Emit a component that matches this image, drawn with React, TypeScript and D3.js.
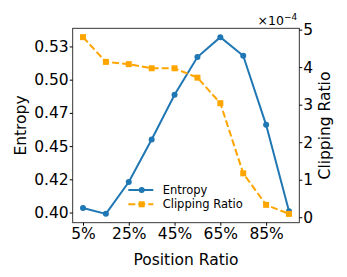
import { useEffect, useRef } from 'react';
import * as d3 from 'd3';

// values
const positions = [5, 15, 25, 35, 45, 55, 65, 75, 85, 95];
const entropy = [0.4034, 0.399, 0.423, 0.455, 0.4887, 0.517, 0.532, 0.518, 0.466, 0.401];
const clippingRatio = [4.8e-4, 4.14e-4, 4.08e-4, 3.97e-4, 3.97e-4, 3.72e-4, 3.04e-4, 1.17e-4, 0.33e-4, 0.09e-4];

const xTicks = [5, 25, 45, 65, 85];
const xTickLabels = ['5%', '25%', '45%', '65%', '85%'];
const leftTicks = [0.4, 0.425, 0.45, 0.475, 0.5, 0.525];
const leftTickLabels = ['0.40', '0.42', '0.45', '0.47', '0.50', '0.53'];
const rightTicks = [0, 1e-4, 2e-4, 3e-4, 4e-4, 5e-4];
const rightTickLabels = ['0', '1', '2', '3', '4', '5'];

const W = 347;
const H = 277;
const FONT = 'DejaVu Sans, sans-serif';
const BLUE = '#1f77b4';
const ORANGE = '#ffa500';

// matplotlib-style 5% padding around the data
function padded(values: number[]): [number, number] {
  const [lo, hi] = d3.extent(values) as [number, number];
  const m = (hi - lo) * 0.05;
  return [lo - m, hi + m];
}

export default function App() {
  const svgRef = useRef<SVGSVGElement>(null);

  useEffect(() => {
    if (!svgRef.current) return;
    const svg = d3.select(svgRef.current);
    svg.selectAll('*').remove();

    const margin = { top: 28.3, right: 47.7, bottom: 54.3, left: 72.7 };
    const innerWidth = W - margin.left - margin.right;
    const innerHeight = H - margin.top - margin.bottom;

    const x = d3.scaleLinear().domain(padded(positions)).range([0, innerWidth]);
    const yL = d3.scaleLinear().domain(padded(entropy)).range([innerHeight, 0]);
    const yR = d3.scaleLinear().domain(padded(clippingRatio)).range([innerHeight, 0]);

    const g = svg.append('g').attr('transform', `translate(${margin.left},${margin.top})`);

    // Entropy line
    const lineL = d3.line<number>().x((_, i) => x(positions[i])).y(d => yL(d));
    g.append('path')
      .datum(entropy)
      .attr('d', lineL)
      .style('fill', 'none')
      .style('stroke', BLUE)
      .style('stroke-width', 2);
    g.selectAll('.pt-e')
      .data(entropy)
      .enter()
      .append('circle')
      .attr('cx', (_, i) => x(positions[i]))
      .attr('cy', d => yL(d))
      .attr('r', 3)
      .style('fill', BLUE);

    // Clipping ratio line
    const lineR = d3.line<number>().x((_, i) => x(positions[i])).y(d => yR(d));
    g.append('path')
      .datum(clippingRatio)
      .attr('d', lineR)
      .style('fill', 'none')
      .style('stroke', ORANGE)
      .style('stroke-width', 2)
      .style('stroke-dasharray', '7,3');
    g.selectAll('.pt-c')
      .data(clippingRatio)
      .enter()
      .append('rect')
      .attr('x', (_, i) => x(positions[i]) - 3)
      .attr('y', d => yR(d) - 3)
      .attr('width', 6)
      .attr('height', 6)
      .style('fill', ORANGE);

    // frame
    g.append('rect')
      .attr('width', innerWidth)
      .attr('height', innerHeight)
      .style('fill', 'none')
      .style('stroke', '#222')
      .style('stroke-width', 0.9);

    const tickFont = (sel: d3.Selection<SVGGElement, unknown, null, undefined>) =>
      sel.style('font-family', FONT).style('font-size', '15.5px').style('color', '#000');

    // axes
    const xAxis = g.append('g')
      .attr('transform', `translate(0,${innerHeight})`)
      .call(d3.axisBottom(x).tickValues(xTicks).tickFormat((_, i) => xTickLabels[i]).tickSizeOuter(0).tickSize(3).tickPadding(2));
    tickFont(xAxis);
    xAxis.select('.domain').remove();

    const leftAxis = g.append('g')
      .call(d3.axisLeft(yL).tickValues(leftTicks).tickFormat((_, i) => leftTickLabels[i]).tickSizeOuter(0).tickSize(3).tickPadding(1));
    tickFont(leftAxis);
    leftAxis.select('.domain').remove();

    const rightAxis = g.append('g')
      .attr('transform', `translate(${innerWidth},0)`)
      .call(d3.axisRight(yR).tickValues(rightTicks).tickFormat((_, i) => rightTickLabels[i]).tickSizeOuter(0).tickSize(3).tickPadding(1));
    tickFont(rightAxis);
    rightAxis.select('.domain').remove();

    // offset text
    const off = g.append('text')
      .attr('x', innerWidth - 2)
      .attr('y', -3)
      .attr('text-anchor', 'end')
      .style('font-family', FONT)
      .style('font-size', '12.5px');
    off.append('tspan').text('×10');
    off.append('tspan').attr('dy', -5).style('font-size', '9px').text('−4');

    // axis labels
    svg.append('text')
      .attr('x', margin.left + innerWidth / 2)
      .attr('y', 265)
      .attr('text-anchor', 'middle')
      .style('font-family', FONT)
      .style('font-size', '15.5px')
      .text('Position Ratio');

    svg.append('text')
      .attr('transform', `translate(25.5,${margin.top + innerHeight / 2}) rotate(-90)`)
      .attr('text-anchor', 'middle')
      .style('font-family', FONT)
      .style('font-size', '15.5px')
      .text('Entropy');

    svg.append('text')
      .attr('transform', `translate(329.5,${margin.top + innerHeight / 2}) rotate(-90)`)
      .attr('text-anchor', 'middle')
      .style('font-family', FONT)
      .style('font-size', '15.5px')
      .text('Clipping Ratio');

    // legend (no frame)
    const lg = svg.append('g').attr('transform', 'translate(125,181)');
    const items = [
      { label: 'Entropy', color: BLUE, dash: 'none', square: false },
      { label: 'Clipping Ratio', color: ORANGE, dash: '7,3', square: true },
    ];
    items.forEach((it, i) => {
      const row = lg.append('g').attr('transform', `translate(0,${9 + i * 14.3})`);
      row.append('line')
        .attr('x1', 3.3)
        .attr('x2', 28.3)
        .style('stroke', it.color)
        .style('stroke-width', 2)
        .style('stroke-dasharray', it.dash);
      if (it.square) {
        row.append('rect').attr('x', 13.7).attr('y', -3).attr('width', 6).attr('height', 6).style('fill', it.color);
      } else {
        row.append('circle').attr('cx', 16.7).attr('r', 3).style('fill', it.color);
      }
      row.append('text')
        .attr('x', 37.7)
        .attr('dy', '0.35em')
        .style('font-family', FONT)
        .style('font-size', '11.5px')
        .text(it.label);
    });
  }, []);

  return (
    <svg
      ref={svgRef}
      width={W}
      height={H}
      style={{ position: 'absolute', left: 0, top: 0, background: '#fff' }}
    />
  );
}
